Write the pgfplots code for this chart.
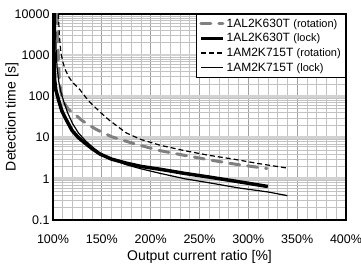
\documentclass[border=0pt]{standalone}
\usepackage{fontspec}
\setmainfont{Liberation Sans}
\usepackage{pgfplots}
\pgfplotsset{compat=1.18}
\definecolor{gline}{HTML}{808080}
\definecolor{gminor}{HTML}{C2C2C2}
\definecolor{gmajorx}{HTML}{A0A0A0}
\definecolor{gmajory}{HTML}{D2D2D2}
\begin{document}
\begin{tikzpicture}
\begin{axis}[
  at={(0,0)}, anchor=south west,
  scale only axis, width=293bp, height=206bp,
  xmin=100, xmax=400, ymode=log, ymin=0.1, ymax=10000,
  xtick={100,150,...,400},
  xticklabels={100\%,150\%,200\%,250\%,300\%,350\%,400\%},
  minor xtick={110,120,130,140,160,170,180,190,210,220,230,240,260,270,280,290,310,320,330,340,360,370,380,390},
  ytick={0.1,1,10,100,1000,10000},
  yticklabels={0.1,1,10,100,1000,10000},
  minor ytick={0.2,0.3,0.4,0.5,0.6,0.7,0.8,0.9,2,3,4,5,6,7,8,9,20,30,40,50,60,70,80,90,200,300,400,500,600,700,800,900,2000,3000,4000,5000,6000,7000,8000,9000},
  grid=both,
  major tick length=0pt, minor tick length=0pt,
  every minor grid/.style={draw=gminor, line width=0.7bp},
  every major x grid/.style={draw=gmajorx, line width=0.9bp},
  every major y grid/.style={draw=gmajory, line width=2.6bp},
  axis line style={line width=1.2bp},
  tick label style={font=\fontsize{12.5bp}{14bp}\selectfont},
  xticklabel style={anchor=center, yshift=-19bp},
  label style={font=\fontsize{14bp}{16bp}\selectfont},
  xlabel={Output current ratio [\%]},
  ylabel={Detection time [s]},
  xlabel style={at={(axis description cs:0.5,-0.18)}, anchor=center},
  ylabel style={at={(axis description cs:-0.14,0.5)}, anchor=center},
  legend style={at={(rel axis cs:1,1)}, anchor=north east, draw=black, line width=0.6bp,
    fill=white, font=\fontsize{12bp}{14bp}\selectfont, inner xsep=3bp, inner ysep=2.5bp,
    row sep=0.8bp, cells={anchor=west}},
  legend image code/.code={\draw[#1] (0bp,0bp) -- (22bp,0bp);},
]
\addplot[gline, line width=3bp, line cap=round, dash pattern=on 10bp off 8bp] coordinates {
(104.2,10000) (104.8,3000) (105.5,800) (106.5,250) (108,130) (110,85) (112.3,64) (116,48) (122.8,36) (129.7,26) (137,20) (145,15.5) (160,10.5) (184,7) (210,4.8) (235,3.7) (261,2.85) (290,2.2) (319,1.78)};
\addlegendentry{1AL2K630T {\fontsize{11bp}{13bp}\selectfont(rotation)}}
\addplot[black, line width=3.5bp] coordinates {
(100.3,10000) (100.8,2000) (101.7,250) (103,140) (105.8,80) (109,45) (112.6,30) (119.4,15) (126,10) (133,7.3) (140,5.4) (148,4.0) (160,3.0) (175,2.4) (190,2.0) (210,1.7) (235,1.35) (260,1.1) (290,0.85) (320,0.65)};
\addlegendentry{1AL2K630T {\fontsize{11bp}{13bp}\selectfont(lock)}}
\addplot[black, line width=1.2bp, dash pattern=on 5bp off 3bp] coordinates {
(105.5,10000) (106.5,3000) (108,1200) (110,700) (112.3,460) (116,300) (120,220) (127.6,145) (136,80) (148,42) (158,26) (175,13) (190,9) (210,6.5) (235,4.8) (260,3.7) (285,3.0) (310,2.35) (340,1.82)};
\addlegendentry{1AM2K715T {\fontsize{11bp}{13bp}\selectfont(rotation)}}
\addplot[black, line width=1.2bp] coordinates {
(102.3,10000) (103.1,1500) (104.2,500) (106,220) (108,130) (111,75) (115,40) (120,22) (126,13) (133,8.5) (140,6) (148,4.2) (160,3.0) (175,2.2) (190,1.75) (210,1.35) (235,1.0) (260,0.8) (290,0.6) (320,0.48) (340,0.39)};
\addlegendentry{1AM2K715T {\fontsize{11bp}{13bp}\selectfont(lock)}}
\end{axis}
\pgfresetboundingbox
\path[use as bounding box] (-53bp,-46bp) rectangle (308bp,220bp);
\end{tikzpicture}
\end{document}
